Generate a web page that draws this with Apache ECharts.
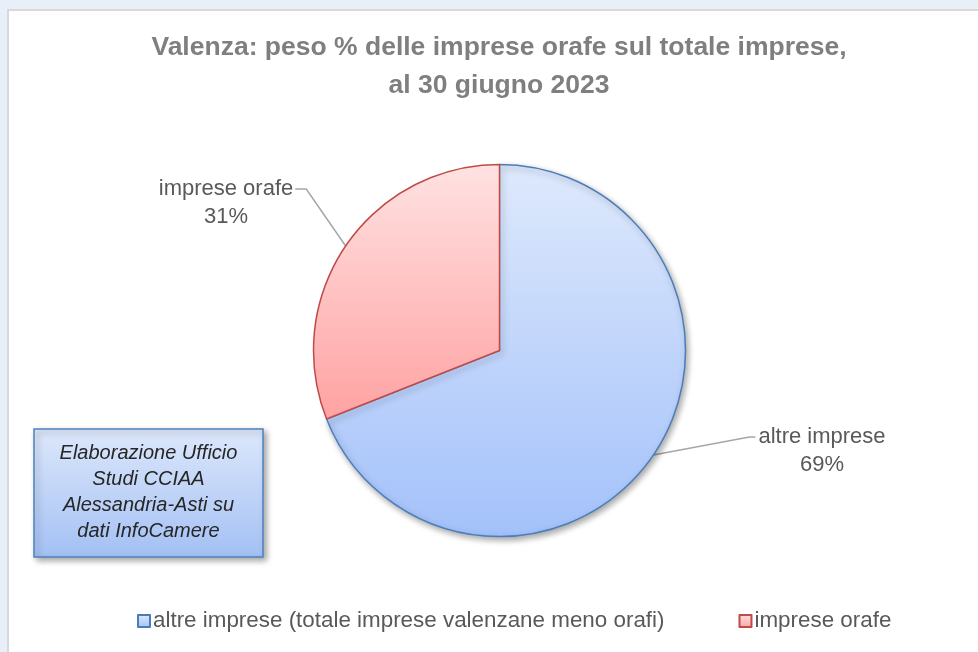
<!DOCTYPE html>
<html><head><meta charset="utf-8">
<script src="https://cdn.jsdelivr.net/npm/echarts@6/dist/echarts.min.js"></script>
<style>
html,body{margin:0;padding:0;background:#e9eff9;width:978px;height:652px;overflow:hidden}
#panel{position:absolute;left:7px;top:9px;right:0;bottom:0;background:#fff;border-left:2px solid #d9d9d9;border-top:2px solid #d9d9d9}
#main{position:absolute;left:0;top:0;width:978px;height:652px}
</style></head><body>
<div id="panel"></div><div id="main"></div>
<script>
// ---- data ----
const titleLines = ['Valenza: peso % delle imprese orafe sul totale imprese,', 'al 30 giugno 2023'];
const categories = ['altre imprese (totale imprese valenzane meno orafi)', 'imprese orafe'];
const labelNames = ['altre imprese', 'imprese orafe'];
const values = [69, 31];
const noteLines = ['Elaborazione Ufficio', 'Studi CCIAA', 'Alessandria-Asti su', 'dati InfoCamere'];

// ---- layout / style ----
const FONT = '"Liberation Sans", Arial, sans-serif';
const LABEL_LH = 28;
const labelAnchors = [
  { x: 822, y: 423, side: 'right' },
  { x: 226, y: 175, side: 'left' }
];
function grad(c0, c1) {
  return new echarts.graphic.LinearGradient(0, 0, 0, 1, [{ offset: 0, color: c0 }, { offset: 1, color: c1 }]);
}
const sliceStyles = [
  { color: grad('#dee9fc', '#a3c1fa'), borderColor: '#4a7ebb', borderWidth: 1.5,
    shadowBlur: 6, shadowOffsetX: 2, shadowOffsetY: 3, shadowColor: 'rgba(0,0,0,0.35)' },
  { color: grad('#ffe2e2', '#ffa2a2'), borderColor: '#be4b48', borderWidth: 1.5 }
];

const chart = echarts.init(document.getElementById('main'), null, { renderer: 'canvas' });
const option = {
  animation: false,
  title: {
    text: titleLines.join('\n'),
    left: 499, top: 29, textAlign: 'center', padding: 0,
    textStyle: { fontFamily: FONT, fontSize: 26.5, fontWeight: 'bold', color: '#7f7f7f', lineHeight: 38 }
  },
  legend: {
    data: categories,
    left: 132, top: 605,
    icon: 'rect', itemWidth: 12, itemHeight: 12, itemGap: 74,
    itemStyle: { shadowBlur: 0, shadowOffsetX: 0, shadowOffsetY: 0 },
    textStyle: { fontFamily: FONT, fontSize: 22.4, color: '#595959', padding: [0, 0, 0, -2] }
  },
  series: [{
    type: 'pie',
    center: [499.5, 350.5],
    radius: 186,
    startAngle: 90,
    clockwise: true,
    avoidLabelOverlap: false,
    data: categories.map((c, i) => ({ name: c, value: values[i], itemStyle: sliceStyles[i] })),
    label: {
      show: true, position: 'outside',
      formatter: p => labelNames[p.dataIndex] + '\n' + p.percent.toFixed(0) + '%',
      fontFamily: FONT, fontSize: 22, lineHeight: LABEL_LH, color: '#595959', align: 'center'
    },
    labelLine: { show: true, length: 20, length2: 10, lineStyle: { color: '#a6a6a6', width: 1.5 } },
    labelLayout: function (p) {
      const a = labelAnchors[p.dataIndex];
      const w = p.labelRect.width;
      const lineY = a.y + LABEL_LH / 2;
      const res = { x: a.x, y: a.y, align: 'center', verticalAlign: 'top' };
      const pts = p.labelLinePoints;
      if (pts && pts.length) {
        let end, elbow;
        if (a.side === 'right') { end = [a.x - w / 2 - 3, lineY]; elbow = [end[0] - 6, lineY]; }
        else { end = [a.x + w / 2 + 2, lineY]; elbow = [end[0] + 11, lineY]; }
        res.labelLinePoints = [pts[0], elbow, end];
      }
      return res;
    },
    emphasis: { disabled: true }
  }],
  graphic: [{
    type: 'group', x: 34, y: 429,
    children: [
      { type: 'rect', shape: { x: 0, y: 0, width: 229, height: 128 },
        style: { fill: grad('#dde8fb', '#a3c0f4'), stroke: '#4f81bd', lineWidth: 1.5,
                 shadowBlur: 6, shadowOffsetX: 3, shadowOffsetY: 3, shadowColor: 'rgba(0,0,0,0.35)' } },
      { type: 'text', x: 114.5, y: 63,
        style: { text: noteLines.join('\n'), fontFamily: FONT, fontSize: 20, fontStyle: 'italic',
                 fill: '#262626', align: 'center', verticalAlign: 'middle', lineHeight: 26 } }
    ]
  }]
};
chart.setOption(option);
</script>
</body></html>
